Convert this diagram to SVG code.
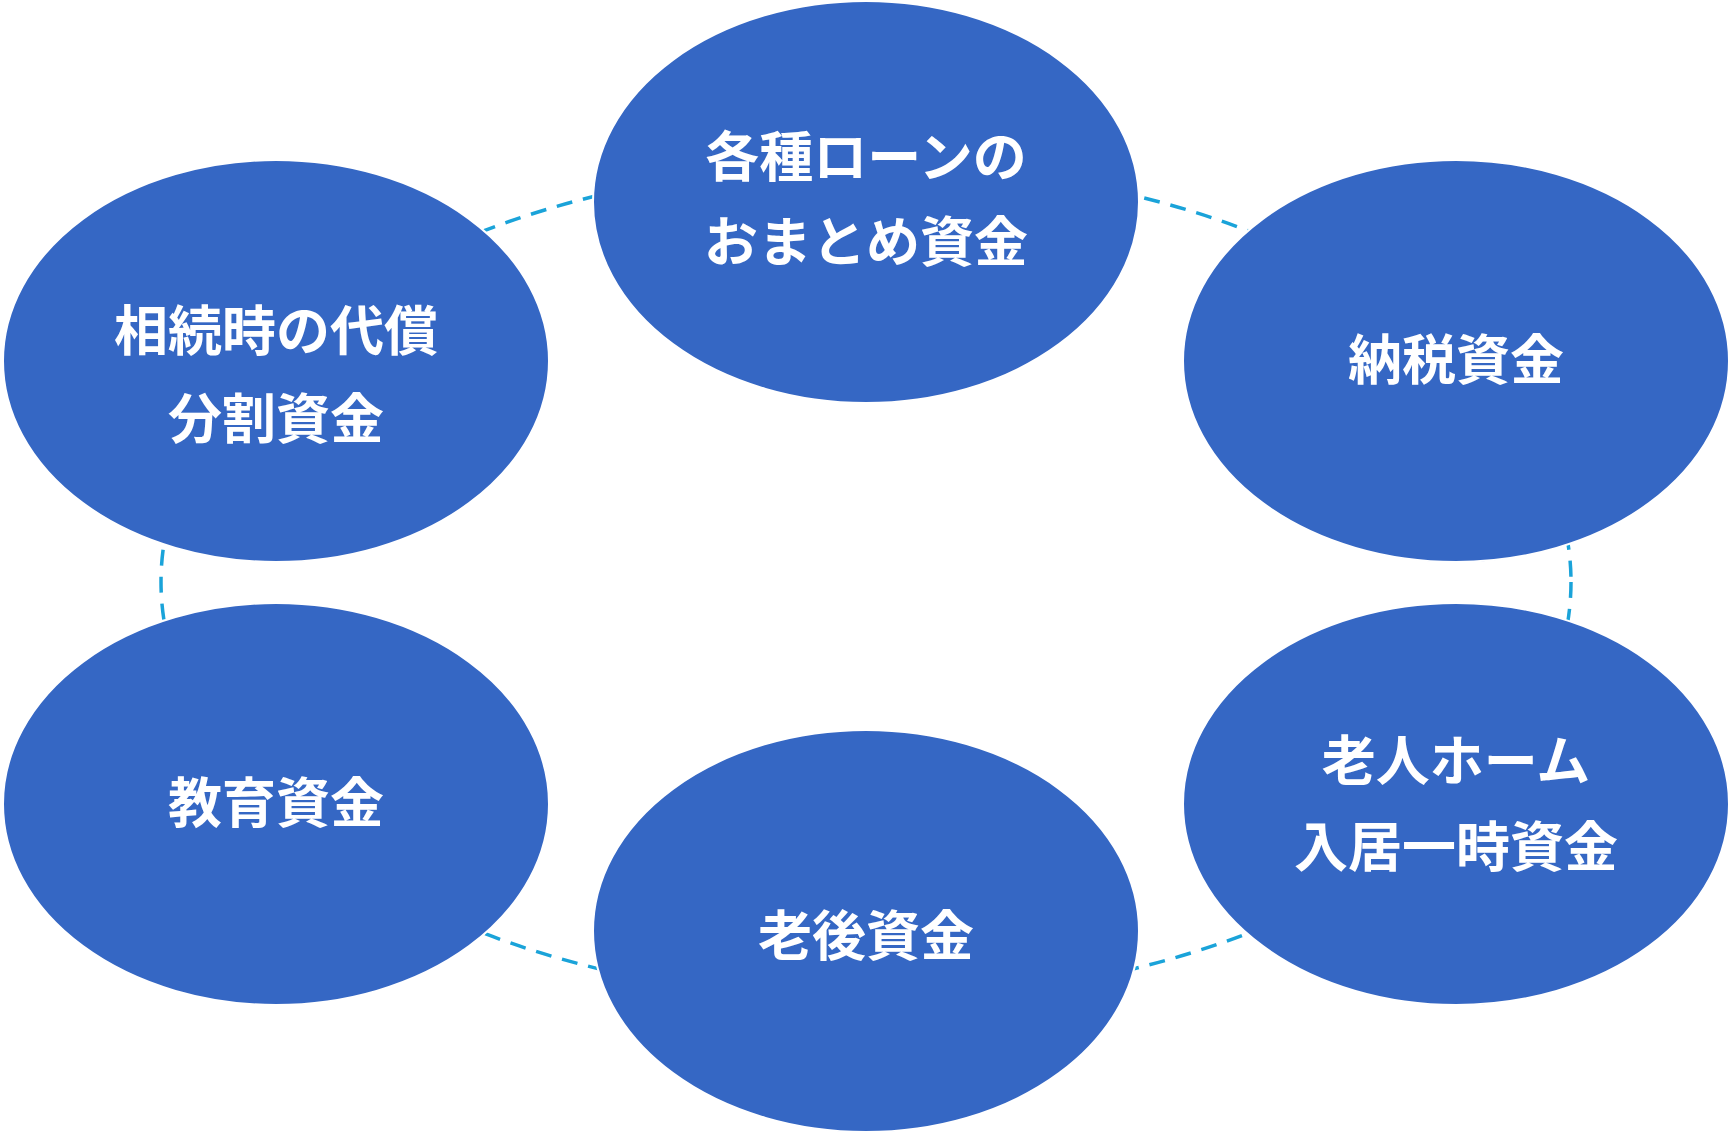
<svg xmlns="http://www.w3.org/2000/svg" width="1732" height="1134" viewBox="0 0 1732 1134">
<style>
.n{fill:#3567c4;stroke:#ffffff;stroke-width:2}
.t{fill:#ffffff;font-family:"Noto Sans CJK JP","Noto Sans",sans-serif;font-weight:bold;font-size:54px;text-anchor:middle}
.c{fill:none;stroke:#1aa3d9;stroke-width:3.5;stroke-dasharray:16 11}
</style>
<rect width="1732" height="1134" fill="#ffffff"/>
<g id="connectors"><ellipse class="c" cx="866" cy="582" rx="705" ry="418"/></g>
<g id="n1"><ellipse class="n" cx="866" cy="202" rx="273" ry="201"/><text class="t" x="866" y="177">各種ローンの</text><text class="t" x="866" y="262">おまとめ資金</text></g>
<g id="n2"><ellipse class="n" cx="1456" cy="361" rx="273" ry="201"/><text class="t" x="1456" y="380">納税資金</text></g>
<g id="n3"><ellipse class="n" cx="1456" cy="804" rx="273" ry="201"/><text class="t" x="1456" y="781">老人ホーム</text><text class="t" x="1456" y="867">入居一時資金</text></g>
<g id="n4"><ellipse class="n" cx="866" cy="931" rx="273" ry="201"/><text class="t" x="866" y="956">老後資金</text></g>
<g id="n5"><ellipse class="n" cx="276" cy="804" rx="273" ry="201"/><text class="t" x="276" y="823">教育資金</text></g>
<g id="n6"><ellipse class="n" cx="276" cy="361" rx="273" ry="201"/><text class="t" x="276" y="351">相続時の代償</text><text class="t" x="276" y="439">分割資金</text></g>
</svg>
